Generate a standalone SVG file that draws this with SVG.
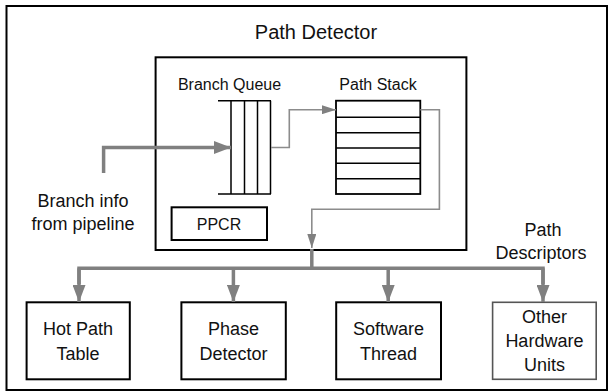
<svg xmlns="http://www.w3.org/2000/svg" width="613" height="392" viewBox="0 0 613 392">
<defs>
<style>
text{font-family:"Liberation Sans",Arial,sans-serif;fill:#111;text-anchor:middle}
.box{fill:#fff;stroke:#000;stroke-width:2}
.ln{stroke:#000;stroke-width:1.5;fill:none}
.thick{stroke:#808080;stroke-width:3.5;fill:none}
.thin{stroke:#8c8c8c;stroke-width:1.6;fill:none}
.t18{font-size:18px}
.t16{font-size:16px}
</style>
<marker id="ah" markerWidth="17" markerHeight="13" refX="17" refY="6.5" orient="auto" markerUnits="userSpaceOnUse">
<path d="M0,0 L17,6.5 L0,13 Z" fill="#808080"/>
</marker>
<marker id="ahs" markerWidth="14" markerHeight="9" refX="14" refY="4.5" orient="auto" markerUnits="userSpaceOnUse">
<path d="M0,0 L14,4.5 L0,9 Z" fill="#808080"/>
</marker>
</defs>
<rect x="0" y="0" width="613" height="392" fill="#fff"/>
<rect id="frame" x="6.5" y="6" width="600.5" height="384" fill="none" stroke="#000" stroke-width="2"/>

<g id="path-detector">
<text x="316" y="39" style="font-size:20px">Path Detector</text>
<rect class="box" x="155.6" y="57.3" width="310.8" height="192.7"/>
</g>

<g id="branch-queue">
<text class="t16" x="229.5" y="90">Branch Queue</text>
<path class="ln" d="M218,100.7 H271 M218,194 H271 M231,100.7 V194 M244.5,100.7 V194 M257.5,100.7 V194 M270.5,100.7 V194"/>
</g>

<g id="path-stack">
<text class="t16" x="378" y="90">Path Stack</text>
<rect x="336" y="100.7" width="84.3" height="93.3" fill="#fff" stroke="#000" stroke-width="1.8"/>
<path class="ln" d="M336,117.3 H420.3 M336,132.7 H420.3 M336,148 H420.3 M336,163.3 H420.3 M336,178.7 H420.3"/>
</g>

<g id="ppcr">
<rect class="box" x="171.6" y="207.3" width="95.4" height="32.7"/>
<text class="t16" x="219" y="229.5">PPCR</text>
</g>

<g id="input-label">
<text class="t18" x="83" y="207">Branch info</text>
<text class="t18" x="83" y="230">from pipeline</text>
</g>

<g id="descriptors-label">
<text class="t18" x="543" y="236">Path</text>
<text class="t18" x="541" y="259">Descriptors</text>
</g>

<g id="hot-path-table">
<rect class="box" x="26.6" y="302.3" width="103.2" height="77"/>
<text class="t18" x="78" y="334.5">Hot Path</text>
<text class="t18" x="78" y="359.5">Table</text>
</g>
<g id="phase-detector">
<rect class="box" x="181.4" y="302.3" width="104.4" height="77"/>
<text class="t18" x="233.6" y="334.5">Phase</text>
<text class="t18" x="233.6" y="359.5">Detector</text>
</g>
<g id="software-thread">
<rect class="box" x="336.2" y="302.3" width="104.8" height="77"/>
<text class="t18" x="388.6" y="334.5">Software</text>
<text class="t18" x="388.6" y="359.5">Thread</text>
</g>
<g id="other-hardware">
<rect x="492.6" y="302.3" width="103.6" height="77" fill="#fff" stroke="#555" stroke-width="1.6"/>
<text class="t18" x="544.4" y="322.5">Other</text>
<text class="t18" x="544.4" y="346.5">Hardware</text>
<text class="t18" x="544.4" y="370.5">Units</text>
</g>

<g id="connectors">
<path class="thick" d="M103.6,173 V147.5 H231" marker-end="url(#ah)"/>
<path class="thin" d="M271,147.5 H289.3 V109.7 H336" marker-end="url(#ahs)"/>
<path class="thin" d="M420.3,109.7 H439.4 V209.3 H311.8 V248" marker-end="url(#ahs)"/>
<path class="thick" d="M311.8,249 V268.3"/>
<path class="thick" d="M79,284 V268.3 H543 V284"/>
<path class="thick" d="M79,268.3 V302" marker-end="url(#ah)"/>
<path class="thick" d="M233.4,268.3 V302" marker-end="url(#ah)"/>
<path class="thick" d="M388.2,268.3 V302" marker-end="url(#ah)"/>
<path class="thick" d="M543,268.3 V302" marker-end="url(#ah)"/>
</g>
</svg>
